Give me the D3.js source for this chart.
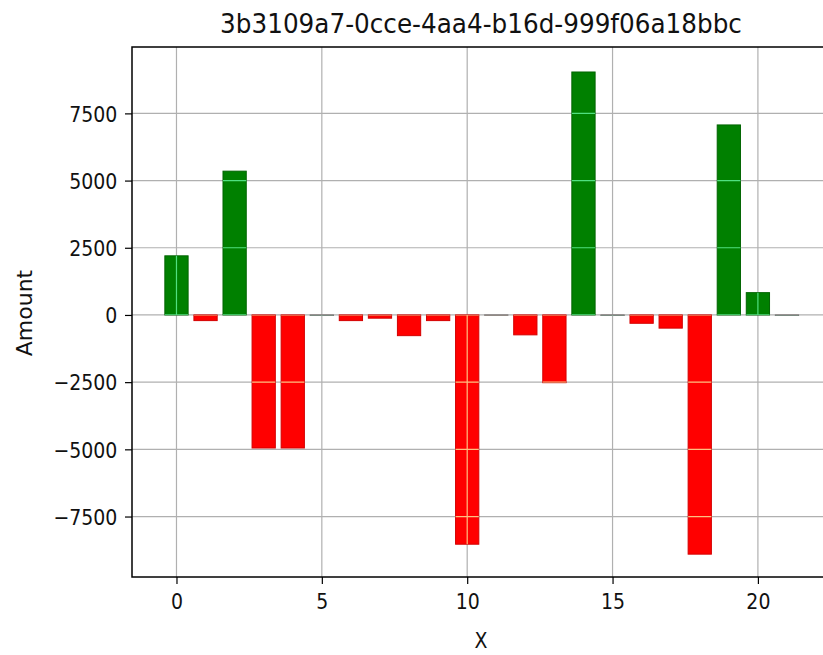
<!DOCTYPE html>
<html>
<head>
<meta charset="utf-8">
<script src="https://cdn.jsdelivr.net/npm/d3@7"></script>
<style>
  html, body { margin: 0; padding: 0; background: #fff; }
  svg { display: block; }
  text { font-family: "DejaVu Sans", sans-serif; fill: #111; }
</style>
</head>
<body>
<svg id="chart" width="823" height="655"></svg>
<script>
// ---- data ----
const titleText = "3b3109a7-0cce-4aa4-b16d-999f06a18bbc";
const xLabel = "X";
const yLabel = "Amount";
const xValues = [0, 1, 2, 3, 4, 5, 6, 7, 8, 9, 10, 11, 12, 13, 14, 15, 16, 17, 18, 19, 20, 21];
const amounts = [2200, -210, 5350, -4950, -4950, -20, -210, -120, -770, -210, -8530, -10, -740, -2520, 9040, -20, -310, -490, -8900, 7070, 830, -20];
const xTicks = [0, 5, 10, 15, 20];
const yTicks = [-7500, -5000, -2500, 0, 2500, 5000, 7500];

// ---- layout ----
const pL = 132, pR = 830, pT = 47, pB = 577;
const svg = d3.select("#chart");
const sx = 0.86; // horizontal text compression seen in reference

const x = d3.scaleLinear().domain([-1.53, 22.48]).range([pL, pR]);
const y = d3.scaleLinear().domain([-9750, 9970]).range([pB, pT]);
const barW = x(0.8) - x(0);

const defs = svg.append("defs");
defs.append("clipPath").attr("id", "plotclip")
  .append("rect").attr("x", pL).attr("y", pT).attr("width", pR - pL).attr("height", pB - pT);

const barX = d => x(d) - barW / 2;
const barY = (d, i) => y(Math.max(0, amounts[i]));
const barH = (d, i) => Math.abs(y(amounts[i]) - y(0));

// clip made of the bars, for the light grid lines that show through them
defs.append("clipPath").attr("id", "barclip").selectAll("rect").data(xValues).join("rect")
  .attr("x", barX).attr("width", barW).attr("y", barY).attr("height", barH);

const plot = svg.append("g").attr("clip-path", "url(#plotclip)");
const grid = plot.append("g");
grid.selectAll("line.vx").data(xTicks).join("line").attr("class", "vx")
  .attr("x1", d => x(d)).attr("x2", d => x(d)).attr("y1", pT).attr("y2", pB)
  .attr("stroke", "#b0b0b0").attr("stroke-width", 1.2);
grid.selectAll("line.hy").data(yTicks).join("line").attr("class", "hy")
  .attr("x1", pL).attr("x2", pR).attr("y1", d => y(d)).attr("y2", d => y(d))
  .attr("stroke", "#b0b0b0").attr("stroke-width", 1.2);

plot.append("g").selectAll("rect").data(xValues).join("rect")
  .attr("x", barX).attr("width", barW).attr("y", barY).attr("height", barH)
  .attr("fill", (d, i) => amounts[i] >= 0 ? "#008000" : "#ff0000")
  .attr("stroke", (d, i) => amounts[i] >= 0 ? "#006400" : (Math.abs(amounts[i]) < 50 ? "#707070" : "#d40000"))
  .attr("stroke-width", 1);

const over = plot.append("g").attr("clip-path", "url(#barclip)").style("mix-blend-mode", "screen");
over.selectAll("line.vx").data(xTicks).join("line").attr("class", "vx")
  .attr("x1", d => x(d)).attr("x2", d => x(d)).attr("y1", pT).attr("y2", pB)
  .attr("stroke", "#50c080").attr("stroke-width", 1.2);
over.selectAll("line.hy").data(yTicks).join("line").attr("class", "hy")
  .attr("x1", pL).attr("x2", pR).attr("y1", d => y(d)).attr("y2", d => y(d))
  .attr("stroke", "#50c080").attr("stroke-width", 1.2);

// frame
svg.append("rect").attr("x", pL).attr("y", pT).attr("width", pR - pL).attr("height", pB - pT)
  .attr("fill", "none").attr("stroke", "#000").attr("stroke-width", 1.5);

// axes
const xAxis = d3.axisBottom(x).tickValues(xTicks).tickFormat(d3.format("d")).tickSize(7).tickPadding(9);
const yAxis = d3.axisLeft(y).tickValues(yTicks).tickFormat(d => d < 0 ? "\u2212" + Math.abs(d) : String(d)).tickSize(7).tickPadding(10);

const gx = svg.append("g").attr("transform", `translate(0,${pB})`).call(xAxis);
const gy = svg.append("g").attr("transform", `translate(${pL},0)`).call(yAxis);
[gx, gy].forEach(g => {
  g.select(".domain").remove();
  g.selectAll(".tick line").attr("stroke", "#000").attr("stroke-width", 1.2);
  g.selectAll(".tick text").attr("font-size", 22).attr("fill", "#111")
    .attr("font-family", "DejaVu Sans, sans-serif");
});
gx.selectAll(".tick text").attr("transform", `scale(${sx},1)`).attr("dy", "0.72em");
gy.selectAll(".tick text").attr("transform", `scale(${sx},1)`).attr("dy", "0.35em");

// title
svg.append("text").attr("transform", `translate(${(pL + pR) / 2},33) scale(0.95,1)`)
  .attr("text-anchor", "middle").attr("font-size", 26).text(titleText);

// axis labels
svg.append("text").attr("transform", `translate(${(pL + pR) / 2},648) scale(${sx},1)`)
  .attr("text-anchor", "middle").attr("font-size", 22).text(xLabel);
svg.append("text").attr("transform", `translate(32,313) rotate(-90)`)
  .attr("text-anchor", "middle").attr("font-size", 22).text(yLabel);
</script>
</body>
</html>
